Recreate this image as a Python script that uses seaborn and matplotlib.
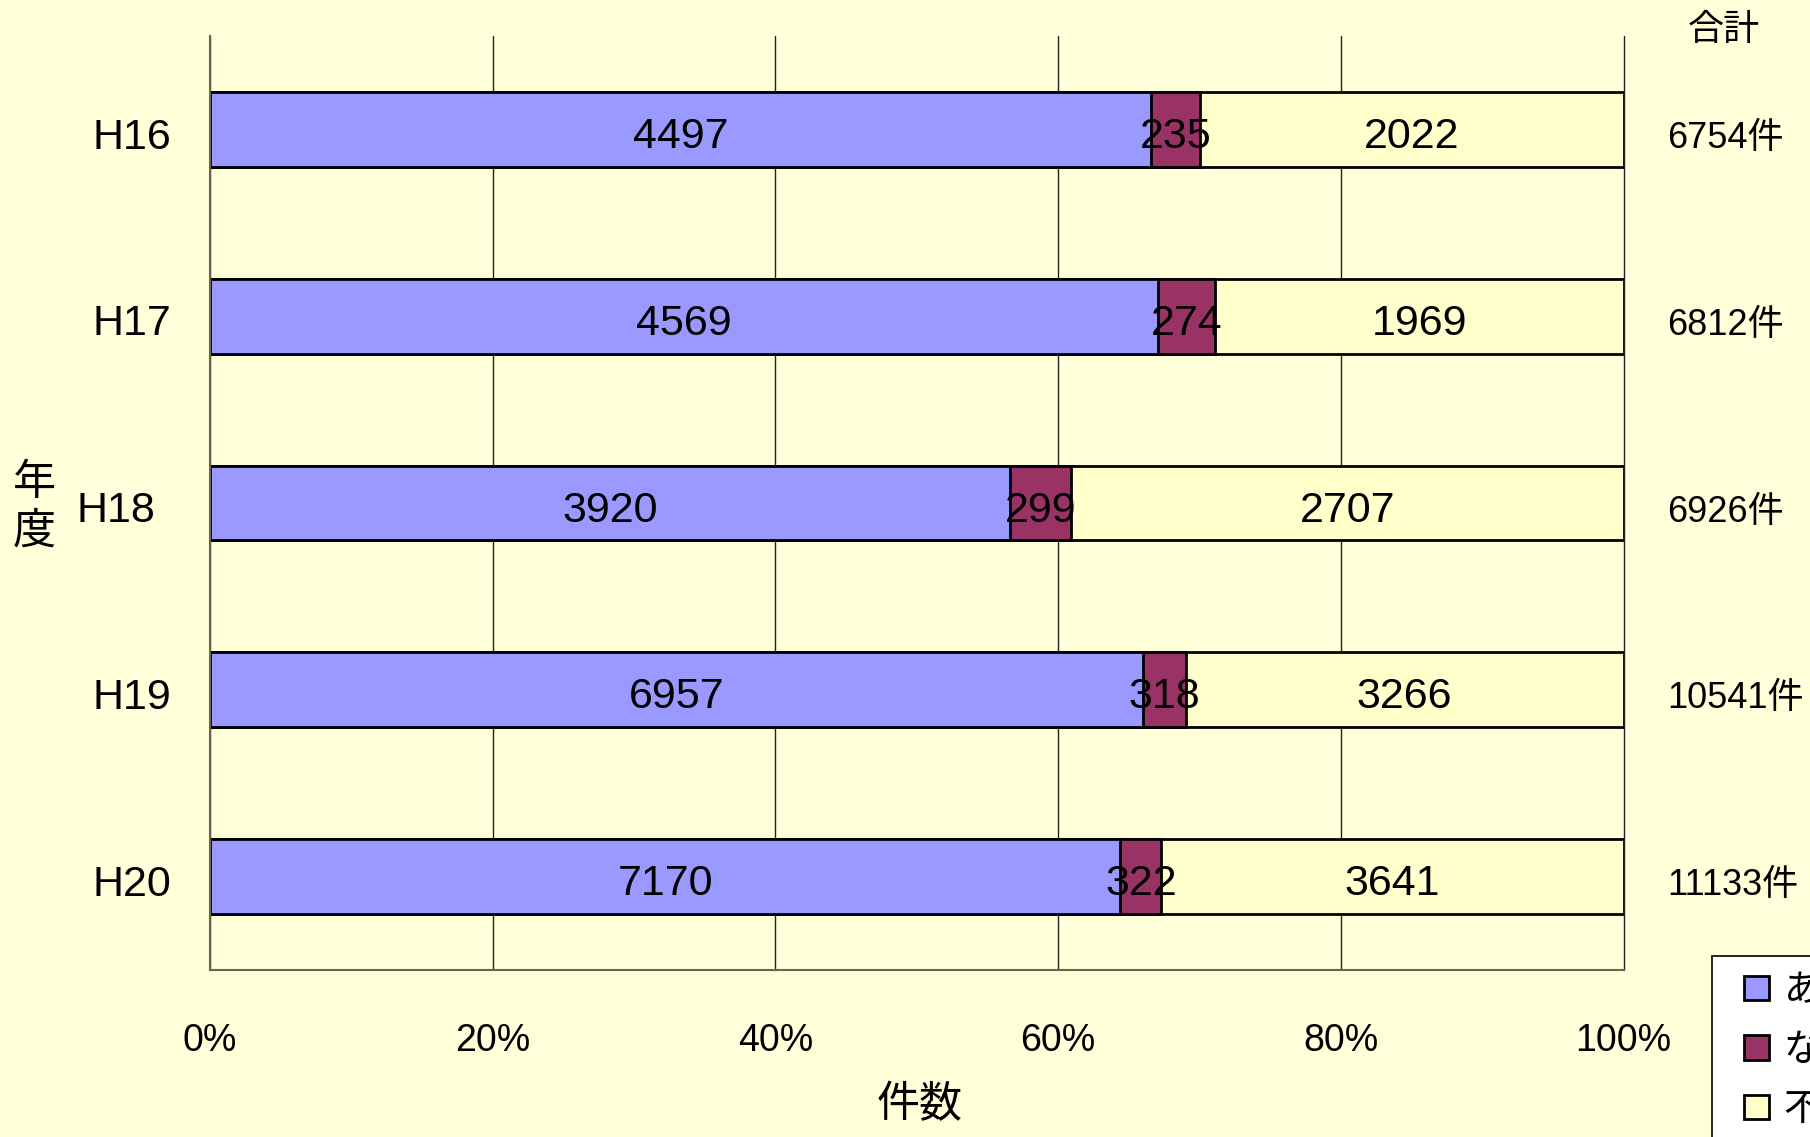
import numpy as np
import pandas as pd
import matplotlib
matplotlib.use('Agg')
import matplotlib.pyplot as plt
import seaborn as sns
from matplotlib.patches import Patch, Rectangle
from matplotlib.legend_handler import HandlerPatch
from matplotlib.transforms import ScaledTranslation

# data
years = ['H16', 'H17', 'H18', 'H19', 'H20']
ari = [4497, 4569, 3920, 6957, 7170]
nashi = [235, 274, 299, 318, 322]
fumei = [2022, 1969, 2707, 3266, 3641]
series_names = ['あり', 'なし', '不明']
colors = ['#9999FF', '#993366', '#FFFFCC']
xticks = [0, 20, 40, 60, 80, 100]

sns.set_style('white')
plt.rcParams['font.family'] = ['Liberation Sans', 'Noto Sans CJK JP']
plt.rcParams['text.color'] = 'black'
plt.rcParams['xtick.color'] = 'black'
plt.rcParams['ytick.color'] = 'black'

df = pd.DataFrame({'year': years, 'ari': ari, 'nashi': nashi, 'fumei': fumei})
df['total'] = df['ari'] + df['nashi'] + df['fumei']
df['c1'] = df['ari'] / df['total'] * 100
df['c2'] = (df['ari'] + df['nashi']) / df['total'] * 100
df['c3'] = df['total'] / df['total'] * 100

bg = '#FFFFD9'
fig = plt.figure(figsize=(18.1, 11.37), dpi=100, facecolor=bg)
ax = fig.add_axes([0.116, 0.147, 0.781, 0.821])
ax.set_facecolor(bg)
ax.set_axisbelow(True)

# stacked bars by overdrawing cumulative widths
for col, c in zip(['c3', 'c2', 'c1'], colors[::-1]):
    sns.barplot(data=df, x=col, y='year', color=c, width=0.4, saturation=1,
                edgecolor='black', linewidth=2, ax=ax)

# segment labels + totals
for i, row in df.iterrows():
    starts = [0, row['c1'], row['c2']]
    ends = [row['c1'], row['c2'], row['c3']]
    vals = [row['ari'], row['nashi'], row['fumei']]
    for s, e, v in zip(starts, ends, vals):
        ax.text((s + e) / 2, i + 0.1, str(v), ha='center', va='baseline', fontsize=31, zorder=5)
    ax.text(1.031, i + 0.1, f"{row['total']}件", transform=ax.get_yaxis_transform(),
            ha='left', va='baseline', fontsize=26)

ax.text(1.071, 1.0065, '合計', transform=ax.transAxes, ha='center', va='center', fontsize=26)

ax.set_xlim(0, 100)
ax.set_ylim(4.5, -0.5)
ax.set_xticks(xticks)
ax.set_xticklabels([f'{t}%' for t in xticks])
ax.tick_params(axis='x', length=0, pad=38, labelsize=27)
ax.xaxis.grid(True, color='#222222', lw=1)
ax.yaxis.grid(False)
for gl in ax.get_xgridlines():
    gl.set_clip_on(False)

ax.tick_params(axis='y', which='major', length=0, pad=28, labelsize=31)
ax.set_yticks(np.arange(-0.5, 5, 1), minor=True)
ax.tick_params(axis='y', which='minor', direction='in', length=12, width=1.2, color='#555555')

for k, lbl in enumerate(ax.get_yticklabels()):
    dx = -0.16 if k == 2 else 0
    lbl.set_transform(lbl.get_transform() + ScaledTranslation(dx, -0.035, fig.dpi_scale_trans))

ax.set_xlabel('')
ax.set_ylabel('')
for s in ['top', 'right']:
    ax.spines[s].set_visible(False)
for s in ['left', 'bottom']:
    ax.spines[s].set_color('#666655')
    ax.spines[s].set_linewidth(1.5)

fig.text(0.508, 0.027, '件数', ha='center', va='center', fontsize=31)
fig.text(0.019, 0.553, '年\n度', ha='center', va='center', fontsize=31, linespacing=1.25)


def square_patch(legend, orig_handle, xdescent, ydescent, width, height, fontsize):
    # square pushed to the right end of the handle box
    return Rectangle((-xdescent + width - height, -ydescent), height, height)


handles = [Patch(facecolor=c, edgecolor='black', linewidth=2) for c in colors]
leg = fig.legend(handles, series_names, loc='upper left', bbox_to_anchor=(0.946, 0.159),
                 borderaxespad=0, frameon=True, facecolor='white', edgecolor='black',
                 fancybox=False, fontsize=27, handlelength=1.05, handleheight=0.62,
                 labelspacing=0.63, borderpad=0.45, handletextpad=0.4,
                 handler_map={Patch: HandlerPatch(patch_func=square_patch)})
leg.get_frame().set_linewidth(1.2)
leg.get_frame().set_alpha(1)

fig.savefig('out.png', dpi=100, facecolor=bg)
